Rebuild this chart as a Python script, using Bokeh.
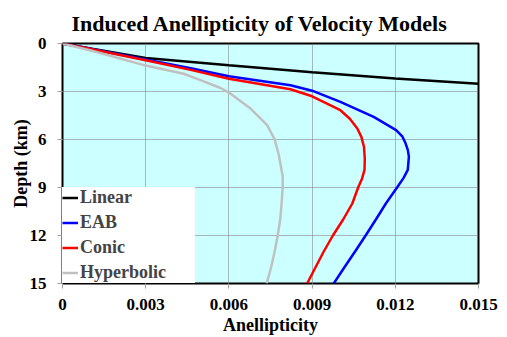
from bokeh.plotting import figure
from bokeh.models import Range1d, FixedTicker, Legend, LegendItem
from bokeh.embed import file_html
from bokeh.resources import INLINE

# ---- data (anellipticity vs depth in km) ----
linear_depth = [0, 0.33, 0.9, 1.36, 1.8, 2.18, 2.51]
linear_eta = [0, 0.00106, 0.003, 0.006, 0.009, 0.012, 0.015]

eab_depth = [0, 0.35, 1.0, 1.55, 2.05, 2.61, 2.95, 3.65, 4.1, 4.59, 5.41,
             5.8, 6.24, 6.65, 7.07, 7.9, 8.4, 8.98, 10, 11, 12, 13, 14, 15]
eab_eta = [0, 0.00106, 0.003, 0.00462, 0.006, 0.00822, 0.009, 0.01002,
           0.0106, 0.01122, 0.01203, 0.01225, 0.01237, 0.01245, 0.01249,
           0.01245, 0.0123, 0.01207, 0.01166, 0.0113, 0.01093, 0.01055,
           0.01016, 0.00978]

conic_depth = [0, 0.36, 1.05, 1.65, 2.2, 2.86, 3.3, 4.17, 4.7, 5.31, 5.85,
               6.45, 7.2, 7.9, 8.45, 9, 10, 11, 12, 13, 14, 15]
conic_eta = [0, 0.00106, 0.003, 0.00462, 0.006, 0.00822, 0.009, 0.01002,
             0.01036, 0.01063, 0.01078, 0.01087, 0.0109, 0.01089, 0.0108,
             0.01066, 0.01045, 0.01012, 0.00975, 0.00942, 0.00912, 0.00882]

hyper_depth = [0, 0.45, 1.38, 1.89, 2.3, 2.78, 3.07, 4.07, 5.1, 6.0, 6.97,
               8.3, 9, 10, 11, 12, 13, 14, 15]
hyper_eta = [0, 0.00106, 0.003, 0.00437, 0.005, 0.0057, 0.006, 0.00678,
             0.00738, 0.00765, 0.0078, 0.00794, 0.00794, 0.0079, 0.00785,
             0.00776, 0.00765, 0.00752, 0.00736]

series_names = ["Linear", "EAB", "Conic", "Hyperbolic"]
series_colors = ["#000000", "#0000FF", "#FF0000", "#C0C0C0"]

x_ticks = [0, 0.003, 0.006, 0.009, 0.012, 0.015]
x_tick_labels = ["0", "0.003", "0.006", "0.009", "0.012", "0.015"]
y_ticks = [0, 3, 6, 9, 12, 15]
y_tick_labels = ["0", "3", "6", "9", "12", "15"]

FONT = "Liberation Serif"

p = figure(width=500, height=337, output_backend="svg", toolbar_location=None,
           x_range=Range1d(0, 0.015), y_range=Range1d(15, 0),
           min_border_left=62, min_border_right=22, min_border_top=43,
           min_border_bottom=53)

p.title.text = "Induced Anellipticity of Velocity Models"
p.title.align = "left"
p.title.offset = 9
p.title.text_font = FONT
p.title.text_font_size = "22px"
p.title.text_font_style = "bold"
p.title.text_color = "black"
p.title.standoff = 16

p.background_fill_color = "#CCFFFF"
p.border_fill_color = "white"
p.outline_line_color = "black"
p.outline_line_width = 2
p.outline_line_alpha = 1

p.xaxis.ticker = FixedTicker(ticks=x_ticks)
p.yaxis.ticker = FixedTicker(ticks=y_ticks)
p.xaxis.major_label_overrides = dict(zip(x_ticks, x_tick_labels))
p.yaxis.major_label_overrides = dict(zip(y_ticks, y_tick_labels))

for ax in (p.xaxis[0], p.yaxis[0]):
    ax.axis_line_color = None
    ax.major_tick_line_color = "#A0A0A0"
    ax.major_tick_out = 5
    ax.major_tick_in = 0
    ax.minor_tick_line_color = None
    ax.major_label_text_font = FONT
    ax.major_label_text_font_size = "17px"
    ax.major_label_text_font_style = "bold"
    ax.major_label_text_color = "black"
    ax.axis_label_text_font = FONT
    ax.axis_label_text_font_size = "18px"
    ax.axis_label_text_font_style = "bold"
    ax.axis_label_text_color = "black"

p.xaxis.axis_label = "Anellipticity"
p.yaxis.axis_label = "Depth (km)"
p.xaxis.major_label_standoff = 10
p.xaxis.axis_label_standoff = 2
p.yaxis.major_label_standoff = 11
p.yaxis.axis_label_standoff = -4

p.grid.grid_line_color = "#808080"
p.grid.grid_line_alpha = 0.55
p.grid.grid_line_width = 1

data = [(linear_eta, linear_depth), (eab_eta, eab_depth),
        (conic_eta, conic_depth), (hyper_eta, hyper_depth)]
items = []
for (xs, ys), name, color in zip(data, series_names, series_colors):
    r = p.line(xs, ys, line_color=color, line_width=2.5)
    items.append(LegendItem(label=name, renderers=[r]))

legend = Legend(items=items, location="bottom_left", margin=0, padding=6,
                spacing=4, label_height=19, glyph_height=19, glyph_width=16,
                label_standoff=2, label_width=115,
                label_text_font=FONT, label_text_font_size="18px",
                label_text_font_style="bold", background_fill_color="white",
                background_fill_alpha=1, border_line_color=None)
p.add_layout(legend)

open("out.html", "w").write(file_html(p, INLINE))
